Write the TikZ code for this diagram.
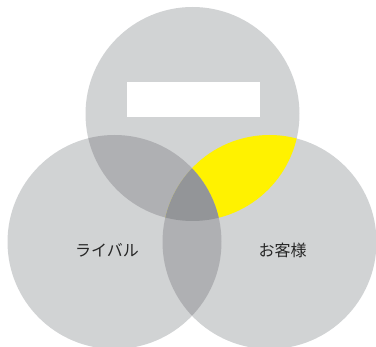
\documentclass[tikz,border=0pt]{standalone}
\usepackage{fontspec}
\newfontfamily\cjk{Noto Sans CJK JP}
\definecolor{lightg}{HTML}{D1D3D4}
\definecolor{midg}{HTML}{AFB0B3}
\definecolor{darkg}{HTML}{939598}
\definecolor{yel}{HTML}{FFF200}
\tikzset{lbl/.style={font=\cjk\fontsize{16}{19}\selectfont, text=black!85, inner sep=0pt}}
\begin{document}
\begin{tikzpicture}[x=1pt,y=-1pt]
\useasboundingbox (0,0) rectangle (376,347);
\def\CT{(192.5,114) circle (107pt)}
\def\CL{(114.5,242) circle (107pt)}
\def\CR{(269.5,242) circle (107pt)}
\fill[lightg] \CT;
\fill[lightg] \CL;
\fill[lightg] \CR;
\begin{scope}\clip \CT; \fill[midg] \CL; \fill[yel] \CR; \end{scope}
\begin{scope}\clip \CL; \fill[midg] \CR; \end{scope}
\begin{scope}\clip \CT; \clip \CL; \fill[darkg] \CR; \end{scope}
\fill[white] (127,82) rectangle (260,117);
\node[lbl] (rival) at (107,250) {ライバル};
\node[lbl] (cust) at (282.5,250) {お客様};
\end{tikzpicture}
\end{document}
